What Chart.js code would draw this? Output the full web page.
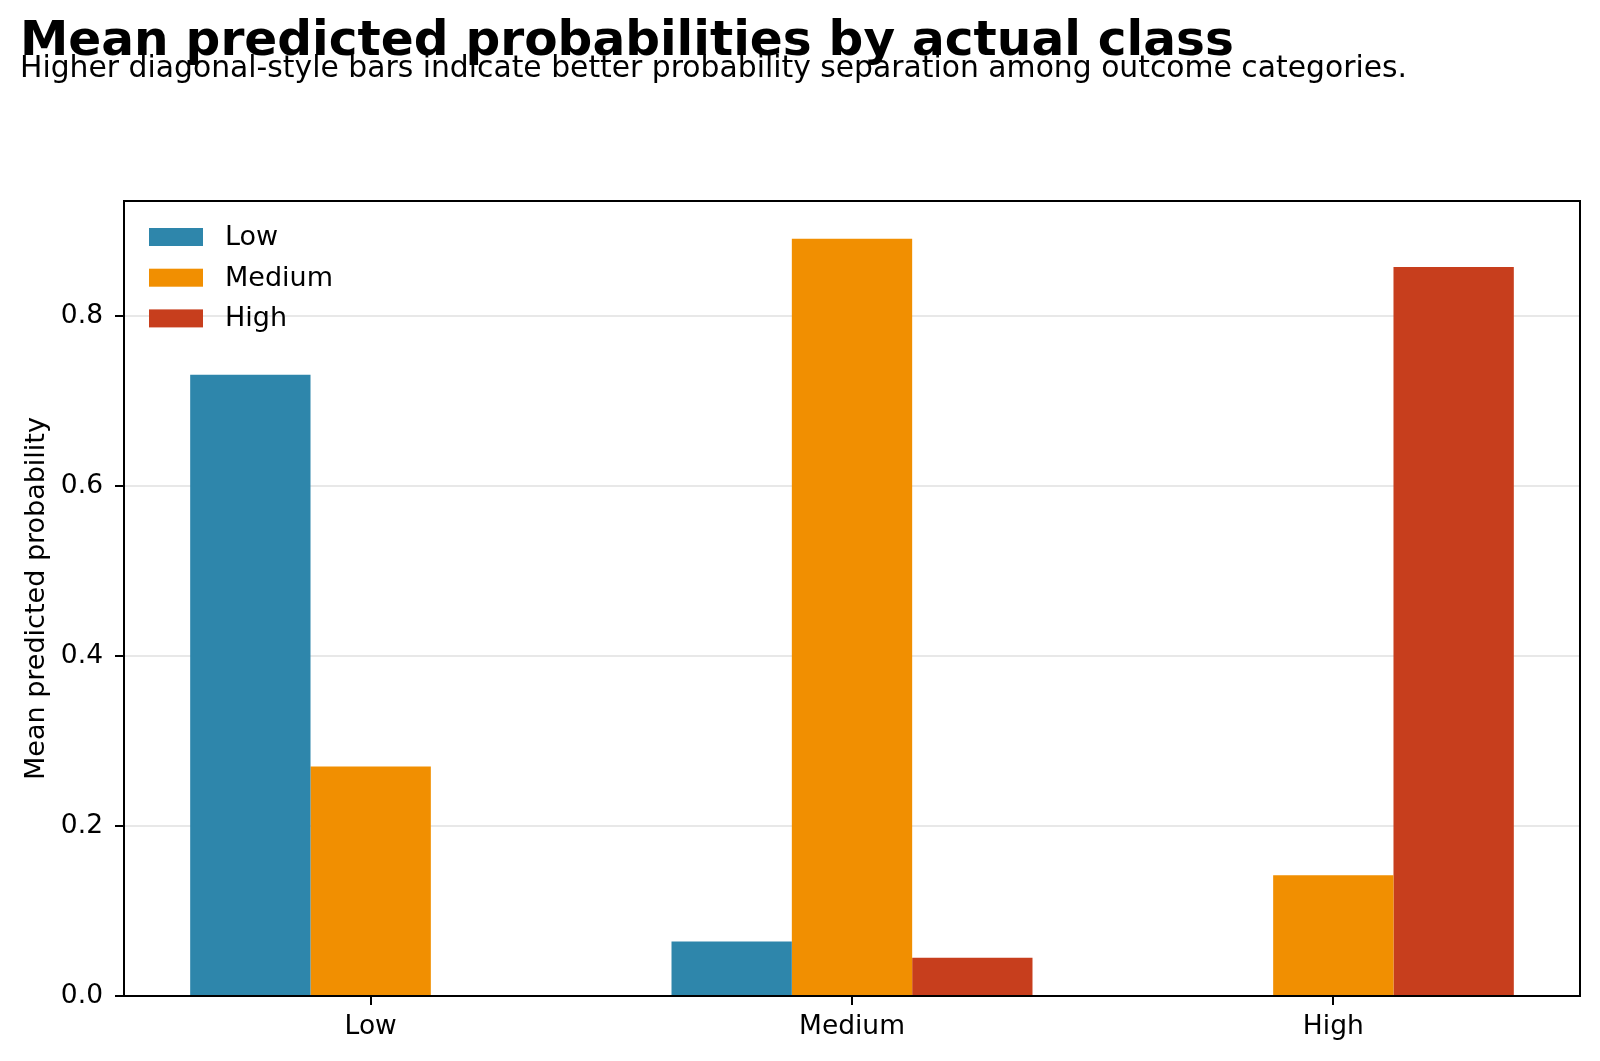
<!DOCTYPE html>
<html>
<head>
<meta charset="utf-8">
<script src="https://cdn.jsdelivr.net/npm/chart.js@4"></script>
<style>
  body { margin: 0; background: #fff; }
  canvas { display: block; }
</style>
</head>
<body>
<canvas id="probs" width="1600" height="1061"></canvas>
<script>
// actual class on x, one bar per predicted class
const classes = ['Low', 'Medium', 'High'];
const predLow = [0.731, 0.064, 0.0];
const predMedium = [0.270, 0.891, 0.142];
const predHigh = [0.0, 0.045, 0.858];

const colors = ['#2E86AB', '#F18F01', '#C73E1D'];
const FONT = "'DejaVu Sans', sans-serif";

// matplotlib-like margins: 5% on y, 5% of bar span on x
const yMax = Math.max(...predLow, ...predMedium, ...predHigh) * 1.05;
const xPad = (classes.length - 1 + 0.75) * 0.05 + 0.375;

const toPoints = arr => arr.map((v, i) => ({ x: i, y: v }));

// title + subtitle, drawn by hand so they can overlap like the original
const headerText = {
  id: 'headerText',
  afterDraw(chart) {
    const c = chart.ctx;
    c.save();
    c.fillStyle = '#000';
    c.textBaseline = 'alphabetic';
    c.textAlign = 'left';
    c.font = 'bold 48.6px ' + FONT;
    c.fillText('Mean predicted probabilities by actual class', 20, 55);
    c.font = '29.8px ' + FONT;
    c.fillText('Higher diagonal-style bars indicate better probability separation among outcome categories.', 20, 77);
    c.restore();
  }
};

// full box round the plot area
const frame = {
  id: 'frame',
  afterDatasetsDraw(chart) {
    const a = chart.chartArea, c = chart.ctx;
    c.save();
    c.strokeStyle = '#000';
    c.lineWidth = 2;
    c.strokeRect(a.left, a.top, a.right - a.left, a.bottom - a.top);
    c.restore();
  }
};

// matplotlib style legend, upper left inside the axes, no frame
const boxLegend = {
  id: 'boxLegend',
  afterDraw(chart) {
    const a = chart.chartArea, c = chart.ctx;
    c.save();
    c.font = '27px ' + FONT;
    c.textBaseline = 'middle';
    chart.data.datasets.forEach((ds, i) => {
      const cy = a.top + 36 + i * 40.7;
      c.fillStyle = ds.backgroundColor;
      c.fillRect(a.left + 25, cy - 9, 54, 18);
      c.fillStyle = '#000';
      c.fillText(ds.label, a.left + 101, cy + 1);
    });
    c.restore();
  }
};

new Chart(document.getElementById('probs'), {
  type: 'bar',
  data: {
    datasets: [
      { label: 'Low', data: toPoints(predLow), backgroundColor: colors[0] },
      { label: 'Medium', data: toPoints(predMedium), backgroundColor: colors[1] },
      { label: 'High', data: toPoints(predHigh), backgroundColor: colors[2] }
    ]
  },
  options: {
    responsive: false,
    animation: false,
    categoryPercentage: 0.75,
    barPercentage: 1.0,
    layout: { padding: { top: 201, right: 20, left: 0, bottom: 0 } },
    plugins: {
      legend: { display: false },
      title: { display: false },
      tooltip: { enabled: false }
    },
    scales: {
      x: {
        type: 'linear',
        min: -xPad,
        max: classes.length - 1 + xPad,
        offset: false,
        grid: { offset: false, drawOnChartArea: false, color: '#000', tickColor: '#000', tickLength: 9, lineWidth: 2 },
        border: { display: false },
        ticks: {
          stepSize: 1,
          includeBounds: false,
          color: '#000',
          font: { family: FONT, size: 26.5 },
          padding: 6,
          maxRotation: 0,
          callback: v => classes[v] ?? ''
        },
        afterFit: s => { s.height = 65; }
      },
      y: {
        min: 0,
        max: yMax,
        grid: { color: '#e8e8e8', lineWidth: 2, tickColor: '#000', tickLength: 9 },
        border: { display: false },
        ticks: {
          stepSize: 0.2,
          includeBounds: false,
          color: '#000',
          padding: 12,
          font: { family: FONT, size: 26.5 },
          callback: v => v.toFixed(1)
        },
        title: {
          display: true,
          text: 'Mean predicted probability',
          color: '#000',
          font: { family: FONT, size: 27 },
          padding: { top: 21, bottom: 0 }
        },
        afterFit: s => { s.width = 124; }
      }
    }
  },
  plugins: [headerText, frame, boxLegend]
});
</script>
</body>
</html>
